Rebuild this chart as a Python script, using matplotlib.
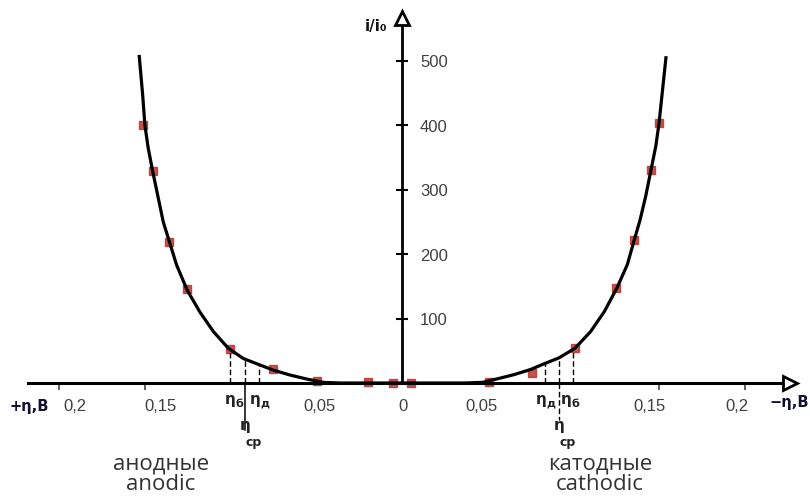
import numpy as np
import matplotlib.pyplot as plt

# anodic branch (left, +eta)
an_eta = [0.1532, 0.1512, 0.1499, 0.1480, 0.1454, 0.1421, 0.1392, 0.1357, 0.1314,
          0.1252, 0.1178, 0.1100, 0.1013, 0.0925, 0.0838, 0.0750, 0.0653, 0.0556,
          0.0459, 0.036, 0.0]
an_i = [507, 447, 400, 365, 329, 287, 250, 220, 183,
        144, 110, 80, 54, 38, 29, 20, 12.4, 6.2,
        1, 0, 0]
# cathodic branch (right, -eta)
ca_eta = [0.1539, 0.1516, 0.1499, 0.1480, 0.1452, 0.1421, 0.1388, 0.1353, 0.1314,
          0.1254, 0.1180, 0.1100, 0.1009, 0.0915, 0.0830, 0.0750, 0.0653, 0.0556,
          0.0470, 0.036, 0.0]
ca_i = [505, 447, 404, 368, 331, 290, 253, 221, 184,
        148, 111, 80, 54, 39, 30, 21, 13, 6.5,
        1, 0, 0]

# experimental points (red squares)
an_pts_eta = [0.1508, 0.145, 0.1357, 0.1252, 0.1003, 0.0754, 0.0497, 0.020, 0.005]
an_pts_i = [401, 329, 219, 146, 53, 22, 3, 1, 0]
ca_pts_eta = [0.150, 0.145, 0.135, 0.125, 0.101, 0.076, 0.051, 0.005]
ca_pts_i = [404, 331, 222, 148, 54, 16, 1, 0]

# characteristic overpotentials
eta_b = 0.100
eta_sr = 0.0915
eta_d = 0.0834

x_ticks = [-0.2, -0.15, 0.15, 0.2]
x_lab_pos = [-0.1906, -0.141, -0.048, 0.0006, 0.0466, 0.1446, 0.1953]
x_lab_txt = ['0,2', '0,15', '0,05', '0', '0,05', '0,15', '0,2']
y_ticks = [100, 200, 300, 400, 500]

fig = plt.figure(figsize=(8.1, 5.01), dpi=100)
ax = fig.add_axes([0, 0, 1, 1])
ax.set_xlim(-0.2344, 0.2379)
ax.set_ylim(-183.2, 594.7)
ax.axis('off')

# axes with open arrow heads
ax.plot([-0.218, 0.222], [0, 0], color='black', lw=2.2, zorder=3)
ax.plot([0, 0], [0, 558], color='black', lw=2.0, zorder=3)
ax.plot([0.2262], [0], marker='>', ms=10, mfc='white', mec='black', mew=2, zorder=4)
ax.plot([0], [567.5], marker='^', ms=10, mfc='white', mec='black', mew=2, zorder=4)

ax.plot(x_ticks, [-4] * len(x_ticks), ls='none', marker='|', ms=6, mew=1.2, color='#444444')
ax.plot([0] * len(y_ticks), y_ticks, ls='none', marker='_', ms=8, mew=1.5, color='black')

for xp, t in zip(x_lab_pos, x_lab_txt):
    ax.text(xp, -37, t, ha='center', va='center', fontsize=12, color='#404040',
            family='Liberation Sans')
for yv in y_ticks:
    ax.text(0.0105, yv - 3, str(yv), ha='left', va='center', fontsize=12, color='#404040',
            family='Liberation Sans')

# red points and fitted curve
red = '#b8352d'
ax.plot([-e for e in an_pts_eta], an_pts_i, ls='none', marker='s', ms=5.5, color=red, alpha=0.85, zorder=2)
ax.plot(ca_pts_eta, ca_pts_i, ls='none', marker='s', ms=5.5, color=red, alpha=0.85, zorder=2)
ax.plot([-e for e in an_eta], an_i, color='black', lw=2.3, zorder=3, solid_joinstyle='round')
ax.plot(ca_eta, ca_i, color='black', lw=2.3, zorder=3, solid_joinstyle='round')

# vertical markers at eta_b, eta_sr, eta_d
an_x = np.array(an_eta[::-1])
an_y = np.array(an_i[::-1])
ca_x = np.array(ca_eta[::-1])
ca_y = np.array(ca_i[::-1])
for e in [eta_b, eta_sr, eta_d]:
    ax.plot([-e, -e], [0, np.interp(e, an_x, an_y)], color='black', lw=1.0, ls=(0, (4, 2)))
    ax.plot([e, e], [0, np.interp(e, ca_x, ca_y)], color='black', lw=1.0, ls=(0, (4, 2)))
ax.plot([-eta_sr, -eta_sr], [0, -73], color='black', lw=1.1)
ax.plot([eta_sr, eta_sr], [0, -57], color='black', lw=1.0, ls=(0, (4, 2)))


def eta_label(x, y, sub, sx, sy, size=8):
    ax.text(x, y, 'η', ha='center', va='center', fontsize=11, fontweight='bold', color='#222222')
    ax.text(sx, sy, sub, ha='left', va='center', fontsize=size, fontweight='bold', color='#222222')


eta_label(-0.1003, -25, 'б', -0.0968, -32)
eta_label(-0.0857, -25, 'д', -0.0826, -32)
eta_label(-0.0915, -66, 'ср', -0.0910, -93, size=9)
eta_label(0.0810, -25, 'д', 0.0840, -32)
eta_label(0.0956, -25, 'б', 0.0987, -32)
eta_label(0.0915, -66, 'ср', 0.0920, -93, size=9)

ax.text(-0.0152, 554, 'i/i₀', ha='center', va='center', fontsize=11, fontweight='bold', color='#111111')
ax.text(-0.2175, -36, '+η,В', ha='center', va='center', fontsize=10.5, fontweight='bold', color='#111133')
ax.text(0.2375, -31, '−η,В', ha='right', va='center', fontsize=10.5, fontweight='bold', color='#111133')

ax.text(-0.1405, -142, 'анодные\nanodic', ha='center', va='center', fontsize=16,
        family='Open Sans', color='#333333', linespacing=0.95)
ax.text(0.1155, -142, 'катодные\ncathodic', ha='center', va='center', fontsize=16,
        family='Open Sans', color='#333333', linespacing=0.95)

fig.savefig('out.png', dpi=100)
